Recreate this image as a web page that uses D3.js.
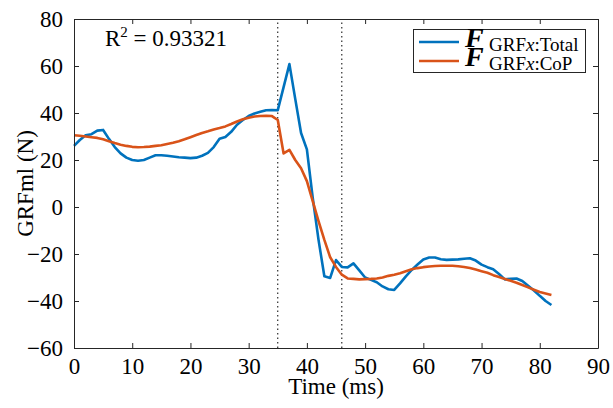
<!DOCTYPE html>
<html lang="en">
<head>
<meta charset="UTF-8" />
<title>GRFml</title>
<style>
  body { margin: 0; background: #fff; }
  svg { display: block; }
</style>
</head>
<body>
<div id="main"></div>
<script src="https://cdn.jsdelivr.net/npm/d3@7"></script>
<script>
// data (ms, N)
const timeTotal = d3.range(0, 83)
const totalValues = [
  26, 28.5, 30.5, 31, 32.5, 32.8, 29, 25.5, 22.8, 21,
  20, 19.7, 20, 21, 22, 22, 21.8, 21.5, 21.2, 21,
  20.8, 21, 21.8, 23, 25.5, 29, 29.8, 32, 35, 37,
  38.7, 39.8, 40.5, 41.2, 41.3, 41.2, 51, 60.8, 46, 31.5,
  24.5, 4, -14, -29.5, -30.2, -22.6, -25.5, -25.7, -24, -27,
  -30, -31, -32, -33.8, -35, -35.3, -32.5, -29.5, -26.8, -24.5,
  -22.3, -21.5, -21.5, -22.2, -22.5, -22.4, -22.3, -22, -21.8, -22.8,
  -24.5, -25.6, -26.5, -28.5, -30.8, -30.5, -30.4, -31.5, -33.5, -35.5,
  -37.8, -40, -41.7
]
const timeCop = d3.range(0, 83)
const copValues = [
  30.5, 30.3, 30, 29.7, 29.4, 28.8, 28, 27.2, 26.5, 26,
  25.6, 25.4, 25.5, 25.7, 26, 26.3, 26.8, 27.3, 28, 28.8,
  29.7, 30.6, 31.5, 32.2, 33, 33.6, 34.3, 35.3, 36.4, 37.3,
  38, 38.5, 38.7, 38.8, 38.7, 37, 22.8, 24.3, 20, 16.5,
  11, 2.5, -6, -14, -21.4, -25.5, -28.8, -30.4, -30.6, -30.8,
  -30.7, -30.6, -30.4, -30, -29.3, -28.8, -28.2, -27.3, -26.5, -26,
  -25.6, -25.3, -25.1, -25, -25, -25, -25.2, -25.5, -26, -26.6,
  -27.3, -28, -29, -29.8, -30.6, -31.4, -32.2, -33.2, -34.2, -35.2,
  -36.2, -36.8, -37.4
]
const eventLines = [35, 46]
const xTicks = d3.range(0, 91, 10)
const yTicks = d3.range(-60, 81, 20)
const rSquared = "0.93321"

const W = 613, H = 408
const margin = { left: 74, right: 15, top: 19, bottom: 60 }
const fontFamily = "Liberation Serif, Times New Roman, serif"
const axisColor = "#262626"
const blue = "#0072BD"
const orange = "#D95319"

const svg = d3.select("#main").append("svg")
  .attr("width", W).attr("height", H)

const x = d3.scaleLinear().domain([0, 90]).range([margin.left, W - margin.right])
const y = d3.scaleLinear().domain([-60, 80]).range([H - margin.bottom, margin.top])

const x0 = x.range()[0], x1 = x.range()[1]
const y0 = y.range()[0], y1 = y.range()[1]

// event markers
svg.selectAll("line.event")
  .data(eventLines)
  .enter()
  .append("line")
  .attr("x1", d => x(d)).attr("x2", d => x(d))
  .attr("y1", y0).attr("y2", y1)
  .attr("stroke", "#000")
  .attr("stroke-width", 1)
  .attr("stroke-dasharray", "1.5,3")

const line = d3.line().x(d => x(d[0])).y(d => y(d[1]))

svg.append("path")
  .datum(d3.zip(timeTotal, totalValues))
  .attr("d", line)
  .attr("fill", "none")
  .attr("stroke", blue)
  .attr("stroke-width", 2.6)
  .attr("stroke-linejoin", "round")

svg.append("path")
  .datum(d3.zip(timeCop, copValues))
  .attr("d", line)
  .attr("fill", "none")
  .attr("stroke", orange)
  .attr("stroke-width", 2.6)
  .attr("stroke-linejoin", "round")

// axes (ticks inward on all four sides)
const tickLen = 5
const styleAxis = g => {
  g.select(".domain").attr("stroke", axisColor).attr("stroke-width", 1)
  g.selectAll(".tick line").attr("stroke", axisColor)
  g.selectAll(".tick text")
    .attr("fill", "#000")
    .attr("font-family", fontFamily)
    .attr("font-size", 23)
}

svg.append("g")
  .attr("transform", `translate(0,${y0})`)
  .call(d3.axisBottom(x).tickValues(xTicks).tickSizeInner(-tickLen).tickSizeOuter(0).tickPadding(9))
  .call(styleAxis)
  .call(g => g.selectAll(".tick text").attr("dy", "0.72em"))

svg.append("g")
  .attr("transform", `translate(0,${y1})`)
  .call(d3.axisTop(x).tickValues(xTicks).tickSizeInner(-tickLen).tickSizeOuter(0).tickFormat(""))
  .call(styleAxis)

svg.append("g")
  .attr("transform", `translate(${x0},0)`)
  .call(d3.axisLeft(y).tickValues(yTicks).tickSizeInner(-tickLen).tickSizeOuter(0).tickPadding(11))
  .call(styleAxis)

svg.append("g")
  .attr("transform", `translate(${x1},0)`)
  .call(d3.axisRight(y).tickValues(yTicks).tickSizeInner(-tickLen).tickSizeOuter(0).tickFormat(""))
  .call(styleAxis)

// axis labels
svg.append("text")
  .attr("x", (x0 + x1) / 2)
  .attr("y", 394)
  .attr("text-anchor", "middle")
  .attr("font-family", fontFamily)
  .attr("font-size", 23)
  .text("Time (ms)")

svg.append("text")
  .attr("transform", `translate(33,${(y0 + y1) / 2}) rotate(-90)`)
  .attr("text-anchor", "middle")
  .attr("font-family", fontFamily)
  .attr("font-size", 23)
  .text("GRFml (N)")

// R^2 annotation
const rText = svg.append("text")
  .attr("x", 105)
  .attr("y", 46)
  .attr("font-family", fontFamily)
  .attr("font-size", 23)
rText.append("tspan").text("R")
rText.append("tspan").attr("dy", -9).attr("font-size", 15).text("2")
rText.append("tspan").attr("dy", 9).text(" = " + rSquared)

// legend
const legend = svg.append("g")
legend.append("rect")
  .attr("x", 413.5).attr("y", 29.5)
  .attr("width", 172).attr("height", 43)
  .attr("fill", "#fff")
  .attr("stroke", axisColor)
  .attr("stroke-width", 1)

const legendItems = [
  { label: "Total", color: blue, yPos: 42 },
  { label: "CoP", color: orange, yPos: 61 }
]
legendItems.forEach(item => {
  legend.append("line")
    .attr("x1", 419).attr("x2", 459)
    .attr("y1", item.yPos).attr("y2", item.yPos)
    .attr("stroke", item.color)
    .attr("stroke-width", 2.6)
  legend.append("text")
    .attr("x", 465)
    .attr("y", item.yPos + 5)
    .attr("font-family", fontFamily)
    .attr("font-size", 28)
    .attr("font-weight", "bold")
    .attr("font-style", "italic")
    .text("F")
  const t = legend.append("text")
    .attr("x", 489)
    .attr("y", item.yPos + 9)
    .attr("font-family", fontFamily)
    .attr("font-size", 19)
  t.append("tspan").text("GRF")
  t.append("tspan").attr("font-style", "italic").text("x")
  t.append("tspan").text(":" + item.label)
})
</script>
</body>
</html>
